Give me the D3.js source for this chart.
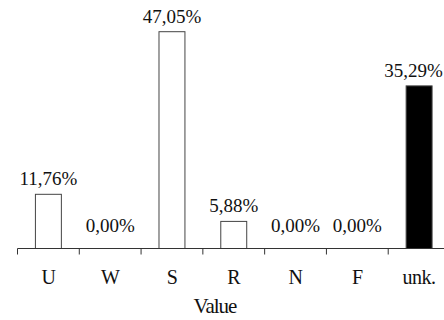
<!DOCTYPE html>
<html><head><meta charset="utf-8">
<script src="https://cdn.jsdelivr.net/npm/d3@7"></script>
<style>body{margin:0;background:#fff}svg{display:block}text{font-family:"Liberation Serif","Times New Roman",serif;fill:#111}</style>
</head><body><svg id="c" width="444" height="320"></svg>
<script>
const categories = ["U","W","S","R","N","F","unk."];
const values = [11.76, 0.00, 47.05, 5.88, 0.00, 0.00, 35.29];
const labels = ["11,76%","0,00%","47,05%","5,88%","0,00%","0,00%","35,29%"];
const fills = ["#fff","#fff","#fff","#fff","#fff","#fff","#000"];

const svg = d3.select("#c");
const base = 248.5;
const x = d3.scaleBand().domain(categories).range([17.5, 450]).padding(0);
const y = d3.scaleLinear().domain([0, 47.05]).range([base, 31.7]);
const bw = x.step() * 0.42;

svg.selectAll("rect.bar").data(categories).enter().append("rect")
  .attr("x", (c) => x(c) + (x.step() - bw) / 2)
  .attr("y", (c, i) => y(values[i]))
  .attr("width", bw)
  .attr("height", (c, i) => base - y(values[i]))
  .attr("fill", (c, i) => fills[i])
  .attr("stroke", "#444").attr("stroke-width", 1);

svg.append("line").attr("x1", 17.5).attr("x2", 444).attr("y1", base).attr("y2", base)
  .attr("stroke", "#333").attr("stroke-width", 1);
svg.selectAll("line.tick").data(categories).enter().append("line")
  .attr("x1", (c) => x(c)).attr("x2", (c) => x(c))
  .attr("y1", base).attr("y2", base + 6)
  .attr("stroke", "#333").attr("stroke-width", 1);

svg.selectAll("text.cat").data(categories).enter().append("text")
  .attr("x", (c) => x(c) + x.step() / 2).attr("y", 284)
  .attr("text-anchor", "middle").attr("font-size", 20)
  .attr("letter-spacing", -0.5)
  .text((c) => c);

svg.selectAll("text.val").data(categories).enter().append("text")
  .attr("x", (c) => x(c) + x.step() / 2)
  .attr("y", (c, i) => values[i] === 0 ? base - 16.5 : y(values[i]) - 9)
  .attr("text-anchor", "middle").attr("font-size", 19)
  .text((c, i) => labels[i])
  .each(function() {
    const b = this.getBBox();
    if (b.x + b.width > 443) {
      d3.select(this).attr("x", +d3.select(this).attr("x") - (b.x + b.width - 443));
    }
  });

svg.append("text").attr("x", 215).attr("y", 313).attr("text-anchor", "middle")
  .attr("font-size", 21).attr("letter-spacing", -1).text("Value");
</script></body></html>
